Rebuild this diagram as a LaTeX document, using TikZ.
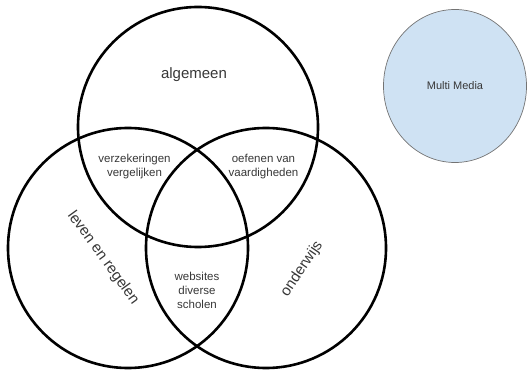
\documentclass[tikz,border=0pt]{standalone}
\usepackage{fontspec}
\setmainfont{Liberation Sans}
\usepackage{tikz}
\usetikzlibrary{shapes.geometric}
\definecolor{mmblue}{RGB}{207,226,243}
\definecolor{labelgray}{RGB}{55,55,55}

\begin{document}
\begin{tikzpicture}[line cap=round,line join=round,x=1pt,y=-1pt,
  venn/.style={circle,draw=black,line width=2.6pt,minimum size=240pt,inner sep=0pt},
  biglabel/.style={text=labelgray,font=\fontsize{15}{18}\selectfont},
  smalllabel/.style={text=labelgray,align=center,font=\fontsize{11.5}{14}\selectfont}]
\useasboundingbox (0,0) rectangle (530,371);
\node[venn] (algemeen) at (198,127) {};
\node[venn] (leven) at (128,248) {};
\node[venn] (onderwijs) at (266,248) {};
\node[ellipse,draw=black!55,line width=0.7pt,fill=mmblue,minimum width=143pt,minimum height=153pt,inner sep=0pt,text=labelgray,font=\fontsize{11}{13}\selectfont] (media) at (455,86) {Multi Media};
\node[biglabel] (lalgemeen) at (194,75) {algemeen};
\node[biglabel,rotate=-54] (lleven) at (103,258) {leven en regelen};
\node[biglabel,rotate=56] (londerwijs) at (302,269) {onderwijs};
\node[smalllabel] (lverz) at (134.5,167) {verzekeringen\\vergelijken};
\node[smalllabel] (loefen) at (263.5,167) {oefenen van\\vaardigheden};
\node[smalllabel] (lweb) at (197,290.5) {websites\\diverse\\scholen};
\end{tikzpicture}
\end{document}
